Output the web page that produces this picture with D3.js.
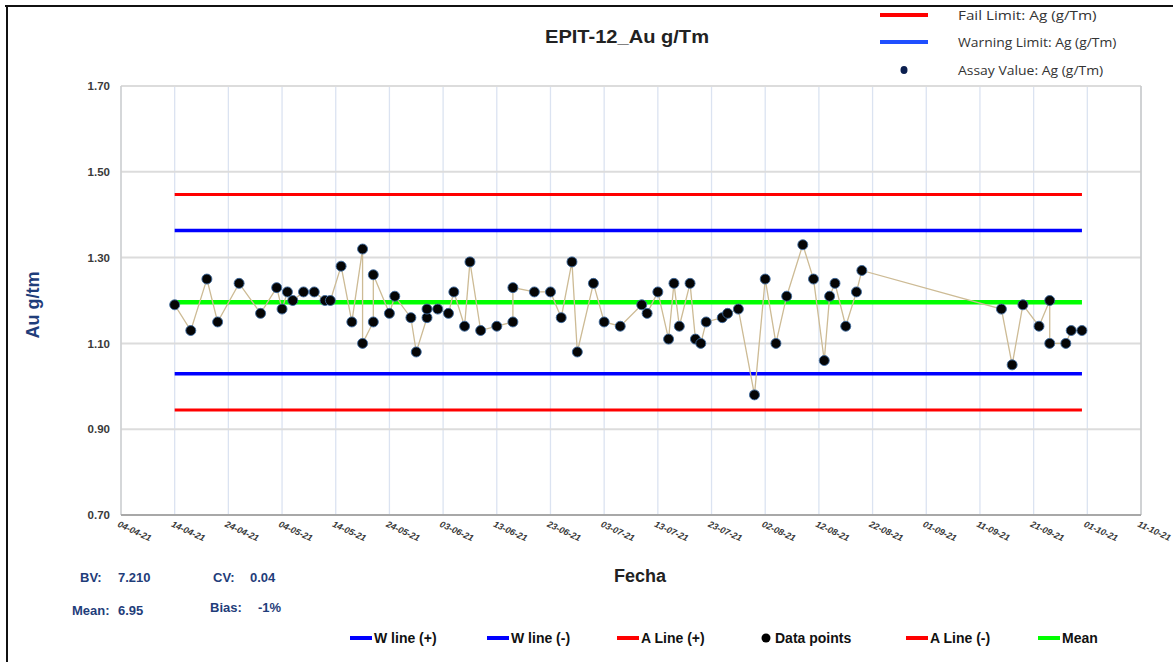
<!DOCTYPE html>
<html>
<head>
<meta charset="utf-8">
<script src="https://cdn.jsdelivr.net/npm/d3@7"></script>
<style>
  html, body { margin: 0; padding: 0; background: #fff; }
  svg { display: block; font-family: "Liberation Sans", Arial, sans-serif; }
</style>
</head>
<body>
<svg id="chart" width="1173" height="662"></svg>
<script>
// Assay dates and Au values (g/tm)
const sampleDates = [
  "2021-04-14","2021-04-17","2021-04-20","2021-04-22","2021-04-26","2021-04-30",
  "2021-05-03","2021-05-04","2021-05-05","2021-05-06","2021-05-08","2021-05-10",
  "2021-05-12","2021-05-13","2021-05-15","2021-05-17","2021-05-19","2021-05-19",
  "2021-05-21","2021-05-21","2021-05-24","2021-05-25","2021-05-28","2021-05-29",
  "2021-05-31","2021-05-31","2021-06-02","2021-06-04","2021-06-05","2021-06-07",
  "2021-06-08","2021-06-10","2021-06-13","2021-06-16","2021-06-16","2021-06-20",
  "2021-06-23","2021-06-25","2021-06-27","2021-06-28","2021-07-01","2021-07-03",
  "2021-07-06","2021-07-10","2021-07-11","2021-07-13","2021-07-15","2021-07-16",
  "2021-07-17","2021-07-19","2021-07-20","2021-07-21","2021-07-22","2021-07-25",
  "2021-07-26","2021-07-28","2021-07-31","2021-08-02","2021-08-04","2021-08-06",
  "2021-08-09","2021-08-11","2021-08-13","2021-08-14","2021-08-15","2021-08-17",
  "2021-08-19","2021-08-20","2021-09-15","2021-09-17","2021-09-19","2021-09-22",
  "2021-09-24","2021-09-24","2021-09-27","2021-09-28","2021-09-30"
];
const sampleValues = [
  1.19, 1.13, 1.25, 1.15, 1.24, 1.17,
  1.23, 1.18, 1.22, 1.20, 1.22, 1.22,
  1.20, 1.20, 1.28, 1.15, 1.32, 1.10,
  1.15, 1.26, 1.17, 1.21, 1.16, 1.08,
  1.16, 1.18, 1.18, 1.17, 1.22, 1.14,
  1.29, 1.13, 1.14, 1.15, 1.23, 1.22,
  1.22, 1.16, 1.29, 1.08, 1.24, 1.15,
  1.14, 1.19, 1.17, 1.22, 1.11, 1.24,
  1.14, 1.24, 1.11, 1.10, 1.15, 1.16,
  1.17, 1.18, 0.98, 1.25, 1.10, 1.21,
  1.33, 1.25, 1.06, 1.21, 1.24, 1.14,
  1.22, 1.27, 1.18, 1.05, 1.19, 1.14,
  1.20, 1.10, 1.10, 1.13, 1.13
];

// Control limits
const meanValue = 1.196;
const warnUpper = 1.363;
const warnLower = 1.029;
const failUpper = 1.447;
const failLower = 0.945;

// Axis ticks
const xTickDates = [
  "2021-04-04","2021-04-14","2021-04-24","2021-05-04","2021-05-14","2021-05-24",
  "2021-06-03","2021-06-13","2021-06-23","2021-07-03","2021-07-13","2021-07-23",
  "2021-08-02","2021-08-12","2021-08-22","2021-09-01","2021-09-11","2021-09-21",
  "2021-10-01","2021-10-11"
];
const yTickValues = [0.70, 0.90, 1.10, 1.30, 1.50, 1.70];

// Summary statistics
const statLabels = ["BV:", "CV:", "Mean:", "Bias:"];
const statValues = ["7.210", "0.04", "6.95", "-1%"];

const parse = d3.utcParse("%Y-%m-%d");
const points = sampleDates.map((d, i) => ({ date: parse(d), value: sampleValues[i] }));
const xTicks = xTickDates.map(parse);

const svg = d3.select("#chart");
const plot = { left: 121, right: 1141, top: 86, bottom: 515 };

const x = d3.scaleUtc()
  .domain([parse(xTickDates[0]), parse(xTickDates[xTickDates.length - 1])])
  .range([plot.left, plot.right]);
const y = d3.scaleLinear().domain([0.7, 1.7]).range([plot.bottom, plot.top]);

// Outer frame (top and left edges)
svg.append("line").attr("x1", 5).attr("x2", 1173).attr("y1", 6).attr("y2", 6)
  .attr("stroke", "#111").attr("stroke-width", 2);
svg.append("line").attr("x1", 7).attr("x2", 7).attr("y1", 5).attr("y2", 662)
  .attr("stroke", "#111").attr("stroke-width", 2);

// Vertical gridlines
svg.append("g").selectAll("line").data(xTicks).join("line")
  .attr("x1", d => x(d)).attr("x2", d => x(d))
  .attr("y1", plot.top).attr("y2", plot.bottom)
  .attr("stroke", "#dbe3f1").attr("stroke-width", 1.3);

// Horizontal gridlines
svg.append("g").selectAll("line").data(yTickValues).join("line")
  .attr("x1", plot.left).attr("x2", plot.right)
  .attr("y1", d => y(d)).attr("y2", d => y(d))
  .attr("stroke", "#dcdcdc").attr("stroke-width", 2);

// Plot frame
svg.append("line").attr("x1", plot.left).attr("x2", plot.left)
  .attr("y1", plot.top).attr("y2", plot.bottom).attr("stroke", "#cfcfcf").attr("stroke-width", 1.5);
svg.append("line").attr("x1", plot.right).attr("x2", plot.right)
  .attr("y1", plot.top).attr("y2", plot.bottom).attr("stroke", "#c8c8c8").attr("stroke-width", 1.5);
svg.append("line").attr("x1", plot.left).attr("x2", plot.right)
  .attr("y1", plot.bottom).attr("y2", plot.bottom).attr("stroke", "#a8a8a8").attr("stroke-width", 2);

// Y axis labels
const yAxis = d3.axisLeft(y).tickValues(yTickValues).tickFormat(d3.format(".2f")).tickSize(0).tickPadding(11);
const yg = svg.append("g").attr("transform", `translate(${plot.left},0)`).call(yAxis);
yg.select(".domain").remove();
yg.selectAll("text").attr("font-size", 11.5).attr("font-weight", "bold").attr("fill", "#3a3a3a")
  .attr("font-family", "Liberation Sans, Arial, sans-serif");

// X axis labels (slanted)
const fmt = d3.utcFormat("%d-%m-%y");
svg.append("g").selectAll("text").data(xTicks).join("text")
  .attr("transform", d => `translate(${x(d) - 3},${plot.bottom + 9}) rotate(25)`)
  .attr("font-size", 9).attr("font-weight", "bold").attr("font-style", "italic")
  .attr("fill", "#3a3a3a").attr("dominant-baseline", "middle")
  .text(d => fmt(d));

// Control limit lines spanning the sampled period
const x0 = x(points[0].date), x1 = x(points[points.length - 1].date);
const limits = [
  { v: failUpper, c: "#ff0000", w: 3 },
  { v: failLower, c: "#ff0000", w: 3 },
  { v: warnUpper, c: "#0000ff", w: 3.5 },
  { v: warnLower, c: "#0000ff", w: 3.5 },
  { v: meanValue, c: "#00ff00", w: 4.5 }
];
svg.append("g").selectAll("line").data(limits).join("line")
  .attr("x1", x0).attr("x2", x1)
  .attr("y1", d => y(d.v)).attr("y2", d => y(d.v))
  .attr("stroke", d => d.c).attr("stroke-width", d => d.w);

// Connecting line through the assay values
const line = d3.line().x(d => x(d.date)).y(d => y(d.value));
svg.append("path").datum(points).attr("d", line)
  .attr("fill", "none").attr("stroke", "#cdbb95").attr("stroke-width", 1.3);

// Data points
svg.append("g").selectAll("circle").data(points).join("circle")
  .attr("cx", d => x(d.date)).attr("cy", d => y(d.value)).attr("r", 5)
  .attr("fill", "#050505").attr("stroke", "#3d6a9e").attr("stroke-width", 0.9);

// Title
svg.append("text").attr("x", 627).attr("y", 43).attr("text-anchor", "middle")
  .attr("font-size", 18).attr("font-weight", "bold").attr("fill", "#222")
  .attr("textLength", 164).attr("lengthAdjust", "spacingAndGlyphs")
  .text("EPIT-12_Au g/Tm");

// Top-right legend
const topLegend = [
  { label: "Fail Limit: Ag (g/Tm)", type: "line", c: "#ff0000", y: 15 },
  { label: "Warning Limit: Ag (g/Tm)", type: "line", c: "#1f4fff", y: 42 },
  { label: "Assay Value: Ag (g/Tm)", type: "dot", c: "#0b1f4f", y: 70 }
];
const tl = svg.append("g");
topLegend.forEach(d => {
  if (d.type === "line") {
    tl.append("line").attr("x1", 880).attr("x2", 928).attr("y1", d.y).attr("y2", d.y)
      .attr("stroke", d.c).attr("stroke-width", 4);
  } else {
    tl.append("ellipse").attr("cx", 904).attr("cy", d.y).attr("rx", 3.5).attr("ry", 4).attr("fill", d.c);
  }
  tl.append("text").attr("x", 958).attr("y", d.y + 5).attr("font-size", 13)
    .attr("fill", "#333").attr("font-family", "Open Sans, Liberation Sans, sans-serif")
    .attr("textLength", d.label.length * 6.6).attr("lengthAdjust", "spacingAndGlyphs")
    .text(d.label);
});

// Y axis title
svg.append("text").attr("transform", "translate(39,305) rotate(-90)")
  .attr("text-anchor", "middle").attr("font-size", 18).attr("font-weight", "bold")
  .attr("fill", "#1f3d7a").text("Au g/tm");

// X axis title
svg.append("text").attr("x", 640).attr("y", 582).attr("text-anchor", "middle")
  .attr("font-size", 18).attr("font-weight", "bold").attr("fill", "#222").text("Fecha");

// Summary statistics
const statPos = [
  { lx: 80, vx: 118, y: 582 },
  { lx: 213, vx: 250, y: 582 },
  { lx: 72, vx: 118, y: 615 },
  { lx: 210, vx: 258, y: 612 }
];
const st = svg.append("g").attr("font-size", 13).attr("font-weight", "bold").attr("fill", "#1f3d7a");
statPos.forEach((p, i) => {
  st.append("text").attr("x", p.lx).attr("y", p.y).text(statLabels[i]);
  st.append("text").attr("x", p.vx).attr("y", p.y).text(statValues[i]);
});

// Bottom legend
const bottomLegend = [
  { label: "W line (+)", type: "line", c: "#0000ff", x: 350 },
  { label: "W line (-)", type: "line", c: "#0000ff", x: 487 },
  { label: "A Line (+)", type: "line", c: "#ff0000", x: 617 },
  { label: "Data points", type: "dot", c: "#000", x: 760 },
  { label: "A Line (-)", type: "line", c: "#ff0000", x: 906 },
  { label: "Mean", type: "line", c: "#00ff00", x: 1038 }
];
const bl = svg.append("g");
bottomLegend.forEach(d => {
  if (d.type === "line") {
    bl.append("line").attr("x1", d.x).attr("x2", d.x + 22).attr("y1", 638).attr("y2", 638)
      .attr("stroke", d.c).attr("stroke-width", 4);
    bl.append("text").attr("x", d.x + 24).attr("y", 643).attr("font-size", 14)
      .attr("font-weight", "bold").attr("fill", "#111").text(d.label);
  } else {
    bl.append("circle").attr("cx", d.x + 6).attr("cy", 638).attr("r", 4.5).attr("fill", d.c);
    bl.append("text").attr("x", d.x + 15).attr("y", 643).attr("font-size", 14)
      .attr("font-weight", "bold").attr("fill", "#111").text(d.label);
  }
});
</script>
</body>
</html>
